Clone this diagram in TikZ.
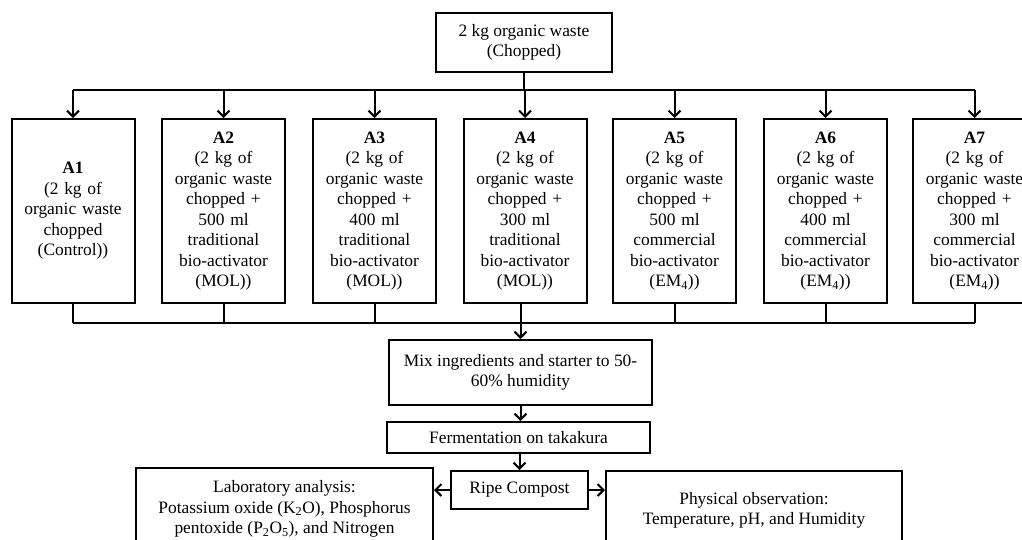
\documentclass[tikz,border=0pt]{standalone}
\usepackage{fontspec}
\setmainfont{Liberation Serif}
\usetikzlibrary{arrows.meta}
\begin{document}
\begin{tikzpicture}[x=1pt,y=-1pt,
  box/.style={draw,line width=2pt,inner sep=0pt,align=center,
    font=\fontsize{17.4}{20.5}\selectfont},
  abox/.style={box,minimum width=123pt,minimum height=184pt,text width=120pt},
  conn/.style={line width=2pt},
  arr/.style={line width=2pt,-{Straight Barb[length=6pt,width=12pt,line width=2pt]}}]
\useasboundingbox (0,0) rectangle (1022,539);
\fill[white] (0,0) rectangle (1022,539);
\node[box,minimum width=176pt,minimum height=59pt] (top) at (524,42.5) {2 kg organic waste\\(Chopped)};
\node[abox] (A1) at (73,211) {\textbf{A1}\\(2 kg of\\organic waste\\chopped\\(Control))};
\node[abox] (A2) at (223.5,211) {\textbf{A2}\\(2 kg of\\organic waste\\chopped +\\500 ml\\traditional\\bio-activator\\(MOL))};
\node[abox] (A3) at (374.5,211) {\textbf{A3}\\(2 kg of\\organic waste\\chopped +\\400 ml\\traditional\\bio-activator\\(MOL))};
\node[abox] (A4) at (525,211) {\textbf{A4}\\(2 kg of\\organic waste\\chopped +\\300 ml\\traditional\\bio-activator\\(MOL))};
\node[abox] (A5) at (674.5,211) {\textbf{A5}\\(2 kg of\\organic waste\\chopped +\\500 ml\\commercial\\bio-activator\\(EM\textsubscript{4}))};
\node[abox] (A6) at (825.5,211) {\textbf{A6}\\(2 kg of\\organic waste\\chopped +\\400 ml\\commercial\\bio-activator\\(EM\textsubscript{4}))};
\node[abox] (A7) at (974.5,211) {\textbf{A7}\\(2 kg of\\organic waste\\chopped +\\300 ml\\commercial\\bio-activator\\(EM\textsubscript{4}))};
\node[box,minimum width=263pt,minimum height=65pt] (mix) at (520.5,372.5) {Mix ingredients and starter to 50-\\60\% humidity};
\node[box,minimum width=263pt,minimum height=31pt] (ferm) at (518.5,437.5) {Fermentation on takakura};
\node[box,minimum width=137pt,minimum height=38pt] (ripe) at (519.5,490) {Ripe Compost};
\node[box,minimum width=297pt,minimum height=82pt] (lab) at (284.5,509) {Laboratory analysis:\\Potassium oxide (K\textsubscript{2}O), Phosphorus\\pentoxide (P\textsubscript{2}O\textsubscript{5}), and Nitrogen};
\node[box,minimum width=296pt,minimum height=79pt] (phys) at (754,510.5) {Physical observation:\\Temperature, pH, and Humidity};
\coordinate (bus1) at (0,90);
\coordinate (bus2) at (0,323);
% top distribution
\draw[conn] (top.south) -- (top.south |- bus1);
\draw[conn] (A1.north |- bus1) -- (A7.north |- bus1);
\foreach \n in {A1,A2,A3,A4,A5,A6,A7}{
  \draw[arr] (\n.north |- bus1) -- (\n.north);
}
% bottom collection
\foreach \n in {A1,A2,A3,A5,A6,A7}{
  \draw[conn] (\n.south) -- (\n.south |- bus2);
}
\draw[conn] (A1.south |- bus2) -- (A7.south |- bus2);
\draw[arr] (A4.south -| mix.north) -- (mix.north);
\draw[arr] (mix.south) -- (mix.south |- ferm.north);
\draw[arr] (ferm.south -| ripe.north) -- (ripe.north);
\draw[arr] (ripe.west) -- (ripe.west -| lab.east);
\draw[arr] (ripe.east) -- (ripe.east -| phys.west);
\end{tikzpicture}
\end{document}
